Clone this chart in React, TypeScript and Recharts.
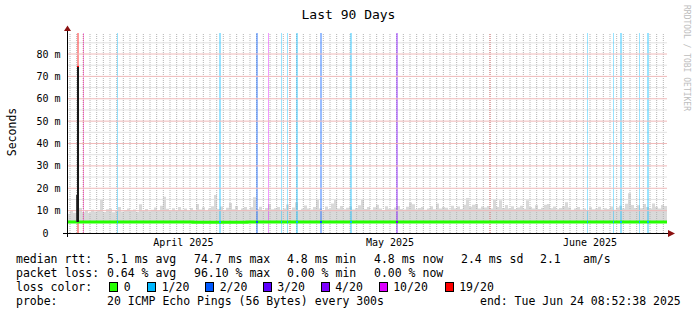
import {
  Area,
  ComposedChart,
  Line,
  ReferenceArea,
  ReferenceLine,
  XAxis,
  YAxis,
} from "recharts";

// SmokePing "Last 90 Days" graph. X is days since the graph start,
// Y is round-trip time in milliseconds.
const MONO = "'DejaVu Sans Mono', monospace";

const SMOKE_FLOOR = 4.5;
const BIN_DAYS = 0.45;

// top of the smoke (max rtt) per 0.45-day column, ms
const smokeTop = [
  8.6, 10.2, 9.1, 9.4, 11.2, 9.3, 10.1, 8.9, 10.4, 9.6,
  10.2, 14.7, 9.4, 10.6, 10.9, 9.3, 9.9, 11.6, 9.6, 10.3,
  11.0, 9.8, 10.5, 9.5, 12.8, 10.0, 10.7, 9.7, 10.4, 11.4,
  10.1, 12.2, 16.2, 10.8, 10.0, 11.1, 9.9, 11.6, 10.4, 10.9,
  9.8, 11.2, 10.2, 13.0, 10.5, 11.5, 10.0, 10.9, 12.0, 17.0,
  10.7, 11.8, 10.2, 11.3, 13.4, 10.6, 12.1, 10.3, 11.0, 11.6,
  10.5, 11.5, 16.0, 10.7, 11.7, 10.1, 11.2, 13.0, 10.6, 11.1,
  11.6, 10.4, 11.0, 12.7, 10.2, 11.4, 13.8, 10.3, 10.8, 12.3,
  11.0, 10.5, 11.6, 15.0, 11.0, 10.3, 11.8, 10.7, 13.2, 14.7,
  10.9, 12.1, 10.6, 11.3, 11.8, 10.5, 11.1, 12.4, 14.7, 10.7,
  11.6, 10.4, 11.5, 12.6, 10.9, 10.3, 12.0, 10.8, 10.6, 11.4,
  12.1, 10.7, 10.5, 11.7, 13.6, 12.8, 10.6, 11.2, 11.6, 10.4,
  10.9, 12.0, 10.6, 13.2, 10.9, 11.6, 11.3, 10.5, 12.2, 11.0,
  11.8, 10.7, 12.6, 15.6, 11.7, 12.6, 13.0, 11.0, 11.9, 11.4,
  12.1, 11.0, 14.8, 11.6, 14.6, 11.2, 12.5, 10.9, 12.0, 10.7,
  11.4, 12.2, 10.8, 14.6, 11.6, 11.0, 12.4, 10.7, 11.3, 12.6,
  13.0, 11.1, 11.8, 10.6, 11.2, 12.0, 13.8, 11.4, 10.4, 10.9,
  11.6, 10.5, 11.0, 10.3, 11.5, 10.6, 10.9, 11.7, 10.5, 11.1,
  10.7, 11.9, 10.4, 11.4, 12.2, 11.0, 13.1, 17.8, 12.5, 11.2,
  12.4, 11.1, 13.0, 11.6, 10.9, 13.2, 11.7, 11.0, 12.5, 12.1,
];

// median rtt per column, ms
const medianRtt = [
  4.9, 4.9, 4.9, 4.9, 4.9, 4.9, 4.9, 4.9, 4.9, 4.9,
  4.9, 4.9, 4.9, 4.9, 4.9, 4.9, 4.9, 4.9, 4.9, 4.9,
  4.9, 4.9, 4.9, 4.9, 4.9, 4.9, 4.9, 4.9, 4.9, 4.9,
  4.9, 4.9, 4.9, 4.9, 4.9, 4.9, 4.9, 4.9, 4.9, 4.9,
  4.9, 4.9, 4.8, 4.8, 4.8, 4.8, 4.8, 4.8, 4.8, 4.8,
  4.8, 4.8, 4.8, 4.8, 4.8, 4.8, 4.8, 4.8, 4.8, 4.8,
  4.9, 4.9, 4.9, 4.9, 4.9, 4.9, 4.9, 4.9, 4.9, 4.9,
  4.9, 4.9, 4.9, 4.9, 4.9, 4.9, 4.9, 4.9, 4.9, 4.9,
  4.9, 4.9, 4.9, 4.9, 4.9, 4.9, 4.9, 4.9, 4.9, 4.9,
  4.9, 4.9, 4.9, 4.9, 4.9, 4.9, 4.9, 4.9, 4.9, 4.9,
  4.9, 4.9, 4.9, 4.9, 4.9, 4.9, 4.9, 4.9, 4.9, 4.9,
  4.9, 4.9, 4.9, 4.9, 4.9, 4.9, 4.9, 4.9, 4.9, 4.9,
  4.9, 4.9, 4.9, 4.9, 4.9, 4.9, 4.9, 4.9, 4.9, 4.9,
  4.9, 4.9, 4.9, 4.9, 4.9, 4.9, 4.9, 4.9, 4.9, 4.9,
  4.9, 4.9, 4.9, 4.9, 4.9, 4.9, 4.9, 4.9, 4.9, 4.9,
  4.9, 4.9, 4.9, 4.9, 4.9, 4.9, 4.9, 4.9, 4.9, 4.9,
  4.9, 4.9, 4.9, 4.9, 4.9, 4.9, 4.9, 4.9, 4.9, 4.9,
  4.9, 4.9, 4.9, 4.9, 4.9, 4.9, 4.9, 4.9, 4.9, 4.9,
  4.9, 4.9, 4.9, 4.9, 4.9, 4.9, 4.9, 4.9, 4.9, 4.9,
  4.9, 4.9, 4.9, 4.9, 4.9, 4.9, 4.9, 4.9, 4.9, 4.9,
];

const lossColors = ["#26ff00", "#00b8ff", "#0059ff", "#5e00ff", "#7e00ff", "#dd00ff", "#ff0000"];
const lossLabels = ["0", "1/20", "2/20", "3/20", "4/20", "10/20", "19/20"];

// loss events: start day, width in days, loss level (index into lossColors)
const lossStart = [1.5, 2.4, 7.5, 22.85, 28.3, 30.15, 32.1, 33.0, 34.3, 38.0, 42.4, 49.3, 78.0, 81.9, 83.0, 85.8, 87.05];
const lossWidth = [0.35, 0.15, 0.2, 0.2, 0.3, 0.2, 0.2, 0.2, 0.3, 0.3, 0.3, 0.3, 0.2, 0.2, 0.2, 0.2, 0.2];
const lossLevel = [6, 5, 1, 1, 2, 5, 1, 1, 1, 2, 1, 4, 1, 1, 1, 1, 1];

// the one big outlier: median jumped to 74.7 ms at 19/20 loss
const spikeDay = 1.5;
const spikeWidth = 0.3;
const spikeRtt = 74.7;

const yTicks = [0, 10, 20, 30, 40, 50, 60, 70, 80];
const yMinor = [5, 15, 25, 35, 45, 55, 65, 75, 85];
const monthTicks = [17.45, 48.45, 78.45];
const monthLabels = ["April 2025", "May 2025", "June 2025"];
const majorDays = [2.45, 33.45, 63.45];
const dayLines = Array.from({ length: 90 }, (_, k) => 0.45 + k);

const rows = smokeTop.map((top, i) => ({
  day: i * BIN_DAYS,
  smoke: [SMOKE_FLOOR, top],
  median: medianRtt[i],
}));
rows.push({
  day: 90,
  smoke: [SMOKE_FLOOR, smokeTop[smokeTop.length - 1]],
  median: medianRtt[medianRtt.length - 1],
});

const legendRows = [
  { y: 263, items: [[16, "median rtt:"], [107, "5.1 ms avg"], [194, "74.7 ms max"], [287, "4.8 ms min"], [374, "4.8 ms now"], [461, "2.4 ms sd"], [540, "2.1"], [583, "am/s"]] },
  { y: 277, items: [[16, "packet loss:"], [107, "0.64 % avg"], [194, "96.10 % max"], [287, "0.00 % min"], [374, "0.00 % now"]] },
  { y: 291, items: [[16, "loss color:"]] },
  { y: 305, items: [[16, "probe:"], [107, "20 ICMP Echo Pings (56 Bytes) every 300s"], [480, "end: Tue Jun 24 08:52:38 2025"]] },
];
const swatchX = [109, 147, 205, 262.5, 320.5, 378.5, 444.5];

const MINOR = "#b4b4b4";
const MAJOR = "#e07a7a";
// horizontal grid drawn solid in the average tone of the dotted lines
const MINOR_H = "#e2e2e2";
const MAJOR_H = "#f0baba";

function YTick({ x, y, payload }: any) {
  const v = payload.value;
  return (
    <text x={v === 0 ? x - 18.5 : x - 6.5} y={y + 3.5} textAnchor="end" fontFamily={MONO} fontSize={10} fill="#000">
      {v === 0 ? "0" : `${v} m`}
    </text>
  );
}

function XTick({ x, y, payload }: any) {
  const idx = monthTicks.indexOf(payload.value);
  return (
    <text x={x} y={y + 12.5} textAnchor="middle" fontFamily={MONO} fontSize={10} fill="#000">
      {monthLabels[idx]}
    </text>
  );
}

export default function App() {
  return (
    <div style={{ position: "absolute", left: 0, top: 0, width: 697, height: 315, background: "#fff" }}>
      <ComposedChart width={697} height={315} data={rows} margin={{ top: 33, right: 30, bottom: 0, left: 0 }}>
        <XAxis
          dataKey="day"
          type="number"
          domain={[0, 90]}
          ticks={monthTicks}
          interval={0}
          height={82}
          axisLine={false}
          tickLine={false}
          tickSize={0}
          tickMargin={0}
          tick={<XTick />}
        />
        <YAxis
          type="number"
          domain={[0, 89.4]}
          ticks={yTicks}
          interval={0}
          width={67}
          axisLine={false}
          tickLine={false}
          tickSize={0}
          tickMargin={0}
          tick={<YTick />}
        />
        <Area
          dataKey="smoke"
          type="stepAfter"
          stroke="none"
          fill="#d9d9d9"
          fillOpacity={1}
          isAnimationActive={false}
          dot={false}
          activeDot={false}
          zIndex={100}
        />
        {dayLines.map((d) => (
          <ReferenceLine key={`dx${d}`} x={d} stroke={MINOR} strokeDasharray="1 1" zIndex={150} />
        ))}
        {yMinor.map((v) => (
          <ReferenceLine key={`dy${v}`} y={v} stroke={MINOR_H} zIndex={150} />
        ))}
        {lossStart.map((d, i) => (
          <ReferenceArea
            key={`bg${i}`}
            x1={d}
            x2={d + lossWidth[i]}
            fill={lossColors[lossLevel[i]]}
            fillOpacity={0.4}
            stroke="none"
            shapeRendering="crispEdges"
            zIndex={200}
          />
        ))}
        {majorDays.map((d) => (
          <ReferenceLine key={`mx${d}`} x={d} stroke={MAJOR} strokeDasharray="1 1" zIndex={250} />
        ))}
        {yTicks.slice(1).map((v) => (
          <ReferenceLine key={`my${v}`} y={v} stroke={MAJOR_H} zIndex={250} />
        ))}
        <Line
          dataKey="median"
          type="stepAfter"
          stroke="#26ff00"
          strokeWidth={3}
          dot={false}
          activeDot={false}
          isAnimationActive={false}
          zIndex={300}
        />
        {lossStart.map((d, i) =>
          lossLevel[i] >= 5 ? null : (
            <ReferenceArea
              key={`md${i}`}
              x1={d}
              x2={d + lossWidth[i]}
              y1={4.25}
              y2={5.55}
              fill={lossColors[lossLevel[i]]}
              fillOpacity={1}
              stroke="none"
              shapeRendering="crispEdges"
              zIndex={350}
            />
          )
        )}
        <ReferenceArea x1={spikeDay - 0.15} x2={spikeDay} y1={4.9} y2={17} fill="#444" fillOpacity={1} stroke="none" zIndex={400} />
        <ReferenceArea x1={spikeDay} x2={spikeDay + spikeWidth} y1={4.9} y2={spikeRtt} fill="#1a1a1a" fillOpacity={1} stroke="none" zIndex={400} />
        <ReferenceArea x1={spikeDay} x2={spikeDay + spikeWidth} y1={spikeRtt - 0.5} y2={spikeRtt} fill="#ff0000" fillOpacity={1} stroke="none" zIndex={410} />
      </ComposedChart>

      <svg width={697} height={315} style={{ position: "absolute", left: 0, top: 0, pointerEvents: "none" }}>
        <text x={348.5} y={18.5} textAnchor="middle" fontFamily={MONO} fontSize={13} fill="#000">
          Last 90 Days
        </text>
        <text transform="translate(15.5,132) rotate(-90)" textAnchor="middle" fontFamily={MONO} fontSize={11.5} fill="#000">
          Seconds
        </text>
        <text transform="translate(684,5) rotate(90)" textAnchor="start" fontFamily={MONO} fontSize={8} fill="#bdbdbd">
          RRDTOOL / TOBI OETIKER
        </text>

        {/* axes with arrow heads */}
        <line x1={63} y1={233.5} x2={670} y2={233.5} stroke="#000" shapeRendering="crispEdges" />
        <line x1={67.5} y1={237} x2={67.5} y2={30} stroke="#000" shapeRendering="crispEdges" />
        <polygon points="668,230 668,237 675,233.5" fill="#8b1010" />
        <polygon points="64,31 71,31 67.5,25.5" fill="#8b1010" />

        {legendRows.map((row) =>
          row.items.map(([x, s]) => (
            <text key={`${row.y}-${x}`} x={x as number} y={row.y} fontFamily={MONO} fontSize={11.5} fill="#000" style={{ whiteSpace: "pre" }}>
              {s}
            </text>
          ))
        )}
        {swatchX.map((x, i) => (
          <g key={`sw${i}`}>
            <rect x={x + 0.5} y={282.5} width={8} height={9} fill={lossColors[i]} stroke="#000" shapeRendering="crispEdges" />
            <text x={x + 14.7} y={291} fontFamily={MONO} fontSize={11.5} fill="#000">
              {lossLabels[i]}
            </text>
          </g>
        ))}
      </svg>
    </div>
  );
}
